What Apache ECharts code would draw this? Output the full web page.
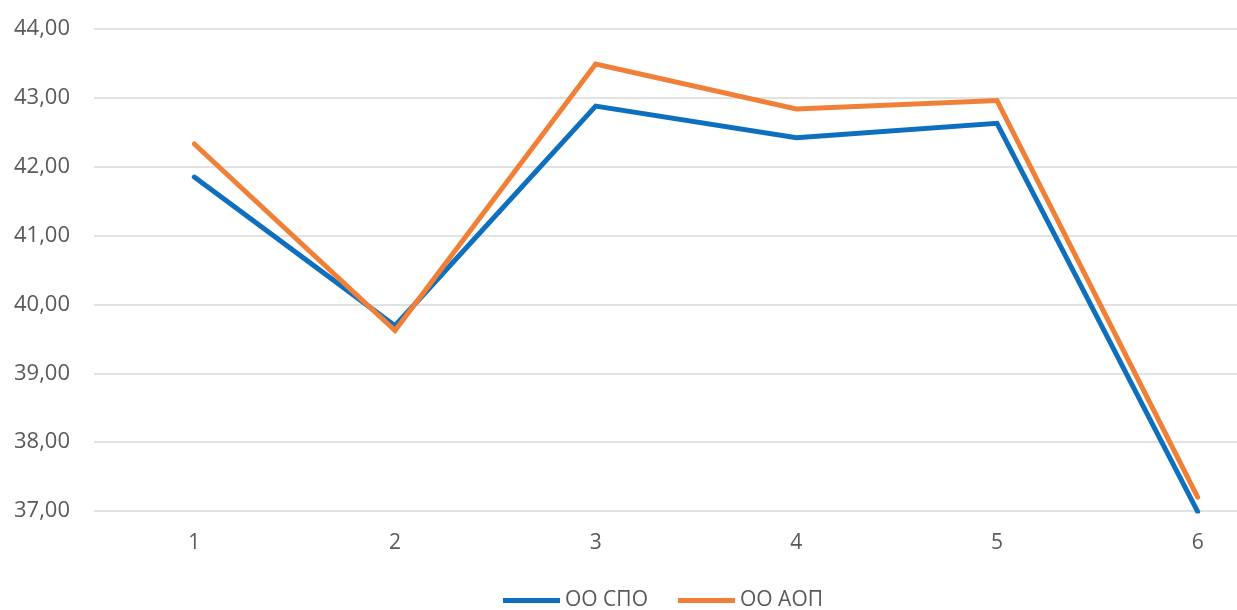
<!DOCTYPE html>
<html>
<head>
<meta charset="utf-8">
<script src="https://cdn.jsdelivr.net/npm/echarts@6/dist/echarts.min.js"></script>
<style>
html,body{margin:0;padding:0;background:#fff;}
#chart{width:1237px;height:610px;}
</style>
</head>
<body>
<div id="chart"></div>
<script>
const categories = ['1', '2', '3', '4', '5', '6'];
const seriesNames = ['ОО СПО', 'ОО АОП'];
const spoValues = [41.85, 39.69, 42.88, 42.42, 42.63, 36.99];
const aopValues = [42.33, 39.62, 43.49, 42.84, 42.96, 37.20];
const yTicks = { min: 37, max: 44, interval: 1 };

const chart = echarts.init(document.getElementById('chart'));
const font = '"Open Sans", "DejaVu Sans", sans-serif';
chart.setOption({
  animation: false,
  backgroundColor: '#ffffff',
  grid: { left: 94, width: 1204, top: 29, height: 482, containLabel: false, outerBoundsMode: 'none' },
  legend: {
    top: 590,
    left: 503,
    padding: 0,
    icon: 'rect',
    itemWidth: 57,
    itemHeight: 5,
    itemGap: 30,
    textStyle: { fontFamily: font, fontSize: 21, color: '#595959' },
    data: seriesNames
  },
  xAxis: {
    type: 'category',
    data: categories,
    boundaryGap: true,
    axisLine: { show: false },
    axisTick: { show: false },
    axisLabel: { fontFamily: font, fontSize: 21, color: '#595959', margin: 22 }
  },
  yAxis: {
    type: 'value',
    min: yTicks.min,
    max: yTicks.max,
    interval: yTicks.interval,
    axisLine: { show: false },
    axisTick: { show: false },
    splitLine: { lineStyle: { color: '#d9d9d9', width: 1.5 } },
    axisLabel: {
      fontFamily: font, fontSize: 22, color: '#595959', margin: 24,
      formatter: v => v.toFixed(2).replace('.', ',')
    }
  },
  series: [
    {
      name: seriesNames[0], type: 'line', data: spoValues,
      symbol: 'none', clip: true,
      itemStyle: { color: '#0f6fbf' },
      lineStyle: { color: '#0f6fbf', width: 5, cap: 'round', join: 'miter' }
    },
    {
      name: seriesNames[1], type: 'line', data: aopValues,
      symbol: 'none', clip: true,
      itemStyle: { color: '#f07f38' },
      lineStyle: { color: '#f07f38', width: 5, cap: 'round', join: 'miter' }
    }
  ]
});
</script>
</body>
</html>
